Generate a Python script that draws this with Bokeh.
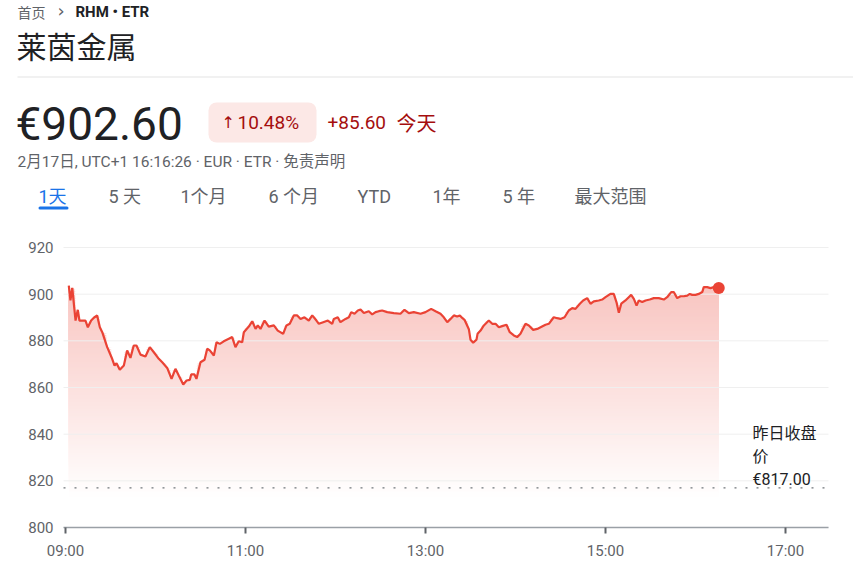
import numpy as np
from bokeh.plotting import figure
from bokeh.models import Range1d, FixedTicker
from bokeh.core.properties import value
from bokeh.embed import file_html
from bokeh.resources import INLINE

# ---------------- data ----------------
# minutes after the 09:00 open
minutes = [2.2, 3.3, 4.5, 6.7, 8.2, 9.3, 13.3, 14.9, 17.1, 18.9, 21.1, 22.9, 24.5, 27.8, 31.1, 32.7,
           34.0, 36.2, 38.9, 41.1, 43.3, 45.5, 47.3, 50.0, 53.3, 56.2, 58.9, 62.2, 64.5, 67.8, 70.7,
           73.3, 75.5, 78.5, 80.7, 82.9, 83.8, 86.0, 87.3, 90.0, 92.7, 94.5, 96.2, 98.9, 100.7, 102.9,
           105.5, 108.9, 111.1, 113.3, 115.5, 117.8, 118.9, 122.2, 124.5, 126.7, 128.2, 130.0, 132.7,
           135.5, 138.9, 141.5, 145.1, 147.3, 149.5, 152.2, 154.5, 156.7, 159.3, 162.2, 164.5, 167.3,
           168.9, 171.8, 174.9, 177.8, 178.9, 181.5, 183.3, 186.7, 188.9, 190.5, 192.7, 194.9, 196.7,
           198.9, 202.2, 204.5, 206.7, 208.9, 211.1, 214.5, 218.9, 223.3, 226.0, 228.9, 232.2, 236.7,
           240.0, 243.8, 246.7, 250.0, 252.2, 254.5, 256.7, 258.9, 261.1, 262.9, 264.5, 266.0, 268.9,
           270.0, 271.8, 274.0, 274.7, 276.7, 278.9, 282.2, 284.5, 286.7, 288.9, 291.1, 294.0, 296.2,
           298.9, 301.1, 303.3, 306.7, 308.9, 311.8, 314.5, 316.7, 320.0, 322.2, 325.5, 327.8, 330.0,
           332.7, 335.5, 337.8, 340.0, 342.9, 345.1, 347.8, 350.0, 352.2, 355.5, 357.8, 360.0, 363.3,
           365.5, 367.3, 368.9, 370.5, 373.3, 375.5, 377.1, 378.9, 380.7, 382.2, 384.5, 386.7, 389.5,
           392.2, 395.5, 398.9, 401.1, 403.8, 405.5, 407.8, 410.0, 412.2, 414.5, 416.2, 417.8, 420.0,
           422.2, 424.5, 425.5, 427.8, 430.0, 432.2, 435.5]
prices = [903.7, 897.3, 902.7, 888.7, 893.3, 888.7, 888.7, 885.8, 888.7, 889.9, 890.9, 885.8, 883.7,
          877.3, 872.3, 869.4, 870.4, 867.6, 869.4, 875.9, 872.7, 878.0, 878.0, 874.1, 873.3, 877.3,
          875.1, 872.3, 870.8, 868.4, 863.7, 868.0, 865.1, 861.3, 863.0, 863.3, 865.6, 865.6, 863.7,
          870.8, 871.9, 876.6, 875.9, 873.7, 879.4, 878.7, 879.8, 880.9, 881.6, 877.3, 879.8, 879.4,
          883.7, 886.1, 888.4, 885.1, 886.6, 885.1, 888.7, 886.1, 886.6, 884.4, 883.0, 886.6, 887.3,
          890.9, 890.9, 889.4, 890.1, 888.7, 890.9, 888.7, 887.3, 888.0, 888.7, 887.3, 889.4, 890.1,
          888.0, 889.4, 890.1, 892.3, 891.6, 893.0, 893.4, 891.9, 892.7, 891.3, 892.3, 892.7, 893.0,
          892.3, 891.9, 891.6, 893.3, 891.9, 892.3, 891.6, 892.3, 893.7, 892.7, 891.6, 890.1, 888.0,
          889.4, 890.9, 890.4, 890.9, 889.8, 889.0, 885.0, 880.5, 879.2, 880.5, 883.0, 884.4, 886.6,
          888.7, 887.3, 887.3, 885.8, 886.3, 886.9, 883.7, 882.3, 881.6, 883.0, 887.3, 886.6, 884.7,
          885.1, 885.8, 886.9, 887.3, 890.1, 889.7, 889.4, 890.1, 893.0, 894.0, 893.7, 895.9, 897.3,
          898.3, 895.9, 896.9, 897.3, 897.7, 898.7, 900.1, 900.1, 896.6, 892.0, 895.9, 897.3, 898.7,
          899.7, 898.0, 895.1, 897.3, 896.6, 897.3, 897.7, 898.3, 898.3, 897.7, 898.7, 900.9, 900.9,
          898.3, 899.1, 899.1, 899.4, 900.1, 899.7, 899.7, 900.1, 900.9, 903.0, 903.0, 902.6, 903.0,
          902.6]
prev_close = 817.00
last_price = 902.60
change_abs = 85.60
change_pct = 10.48
y_ticks = [800, 820, 840, 860, 880, 900, 920]
x_tick_labels = ["09:00", "11:00", "13:00", "15:00", "17:00"]
range_tabs = ["1天", "5 天", "1个月", "6 个月", "YTD", "1年", "5 年", "最大范围"]
crumb_home = "首页"
crumb_ticker = "RHM • ETR"
title = "莱茵金属"
time_line = "2月17日, UTC+1 16:16:26 · EUR · ETR · 免责声明"

RED = "#ea4335"
DARK_RED = "#a50e0e"
GREY = "#5f6368"
INK = "#202124"
LAT = "Roboto, 'Noto Sans CJK SC'"
CJK = "Noto Sans CJK SC"

# ---------------- page geometry ----------------
W, H = 853, 565
FL, FR, FT, FB = 63, 828, 240, 527     # chart area (page px)
PX_PER_MIN = 1.5                      # 2 h of trading = 180 px
Y_LO, Y_HI = 800, 923                 # value range of the chart area
PX_PER_VAL = (FB - FT) / (Y_HI - Y_LO)
OPEN_PX = 65                          # page x of 09:00


def X(px):
    return (px - OPEN_PX) / PX_PER_MIN


def Y(py):
    return Y_LO + (FB - py) / PX_PER_VAL


def tick_minute(s):
    hh, mm = map(int, s.split(":"))
    return (hh - 9) * 60 + mm


x_ticks = [tick_minute(s) for s in x_tick_labels]

p = figure(width=W, height=H, x_range=Range1d(X(0), X(W)), y_range=Range1d(Y(H), Y(0)),
           output_backend="svg", toolbar_location=None,
           min_border_left=0, min_border_right=0, min_border_top=0, min_border_bottom=0)
p.outline_line_color = None
p.grid.visible = False

# horizontal grid lines at the y ticks, limited to the chart area
p.segment(x0=[X(FL)] * len(y_ticks), x1=[X(FR)] * len(y_ticks), y0=y_ticks, y1=y_ticks,
          line_color="#efefef", line_width=1)

p.yaxis.fixed_location = X(FL)
p.yaxis.ticker = FixedTicker(ticks=y_ticks)
p.yaxis.axis_line_color = None
p.yaxis.major_tick_line_color = None
p.yaxis.minor_tick_line_color = None
p.yaxis.major_tick_out = 0
p.yaxis.major_tick_in = 0
p.yaxis.major_label_standoff = 10
p.yaxis.major_label_text_font = "Roboto"
p.yaxis.major_label_text_font_size = "15px"
p.yaxis.major_label_text_color = GREY

p.xaxis.fixed_location = Y_LO
p.xaxis.bounds = (X(FL), X(FR))
p.xaxis.ticker = FixedTicker(ticks=x_ticks)
p.xaxis.major_label_overrides = {t: s for t, s in zip(x_ticks, x_tick_labels)}
p.xaxis.axis_line_color = "#9aa0a6"
p.xaxis.axis_line_width = 1.5
p.xaxis.major_tick_line_color = GREY
p.xaxis.major_tick_line_width = 2
p.xaxis.major_tick_in = 0
p.xaxis.major_tick_out = 6
p.xaxis.minor_tick_line_color = None
p.xaxis.major_label_standoff = 8
p.xaxis.major_label_text_font = "Roboto"
p.xaxis.major_label_text_font_size = "15px"
p.xaxis.major_label_text_color = GREY

x = np.array(minutes)
y = np.array(prices)

# vertical gradient fill: nested opaque layers, each one a shade deeper
red_rgb = np.array([234, 67, 53])
levels = np.arange(812, 906, 1.0)
for lvl in levels:
    a = 0.31 * np.clip((lvl - 812) / (903 - 812), 0, 1)
    rgb = (255 * (1 - a) + red_rgb * a).round().astype(int)
    col = "#%02x%02x%02x" % tuple(rgb)
    p.varea(x=x, y1=np.full_like(y, lvl), y2=np.maximum(y, lvl), fill_color=col,
            level="underlay")

# previous close reference (dotted)
p.segment(x0=[X(FL)], y0=[prev_close], x1=[X(FR)], y1=[prev_close], line_color="#70757a",
          line_dash="2 9", line_width=1.3)

p.line(x, y, line_color=RED, line_width=2.2, level="overlay")
p.scatter([x[-1]], [y[-1]], size=12, fill_color=RED, line_color=None, level="overlay")

p.text(x=[x[-1] + 22.5], y=[prev_close + 27.3],
       text=[f"昨日收盘\n价\n€{prev_close:.2f}"], text_font=value(LAT),
       text_font_size="16px", text_color=INK, text_baseline="top", text_line_height=1.2,
       level="overlay")

# ---------------- header ----------------
def hl(px, py, text, size, color=GREY, font=LAT, style="normal"):
    p.text(x=[X(px)], y=[Y(py)], text=[text], text_font=value(font), text_font_size=size,
           text_color=color, text_font_style=style, text_baseline="middle", level="overlay")


hl(17, 11, crumb_home, "14px", GREY, CJK)
hl(57, 10, "›", "18px", GREY, "DejaVu Sans")
hl(75, 11, crumb_ticker, "15px", INK, "Roboto", "bold")
hl(16, 44, title, "30px", INK, CJK)
p.segment(x0=[X(17)], y0=[Y(76.5)], x1=[X(W)], y1=[Y(76.5)], line_color="#e3e3e3", line_width=1)

hl(15, 123, f"€{last_price:.2f}", "46px", INK, "Roboto")
p.quad(left=[X(208)], right=[X(316)], top=[Y(102)], bottom=[Y(142)], fill_color="#fce8e6",
       line_color=None, border_radius=8)
hl(221, 122, "↑", "16px", DARK_RED, "DejaVu Sans")
hl(237, 122, f"{change_pct:.2f}%", "19px", DARK_RED, "Roboto")
hl(327, 122, f"+{change_abs:.2f}", "19px", DARK_RED, "Roboto")
hl(396, 122, "今天", "20px", DARK_RED, CJK)
hl(17, 161, time_line, "15.5px", GREY, LAT)

tab_x = [38, 108, 180, 268, 357, 432, 502, 574]
for i, (tx, tab) in enumerate(zip(tab_x, range_tabs)):
    hl(tx, 196, tab, "18px", "#1a73e8" if i == 0 else GREY, LAT)
p.quad(left=[X(38)], right=[X(68)], top=[Y(206)], bottom=[Y(209)], fill_color="#1a73e8",
       line_color=None, border_radius=2)

open("out.html", "w").write(file_html(p, INLINE))
